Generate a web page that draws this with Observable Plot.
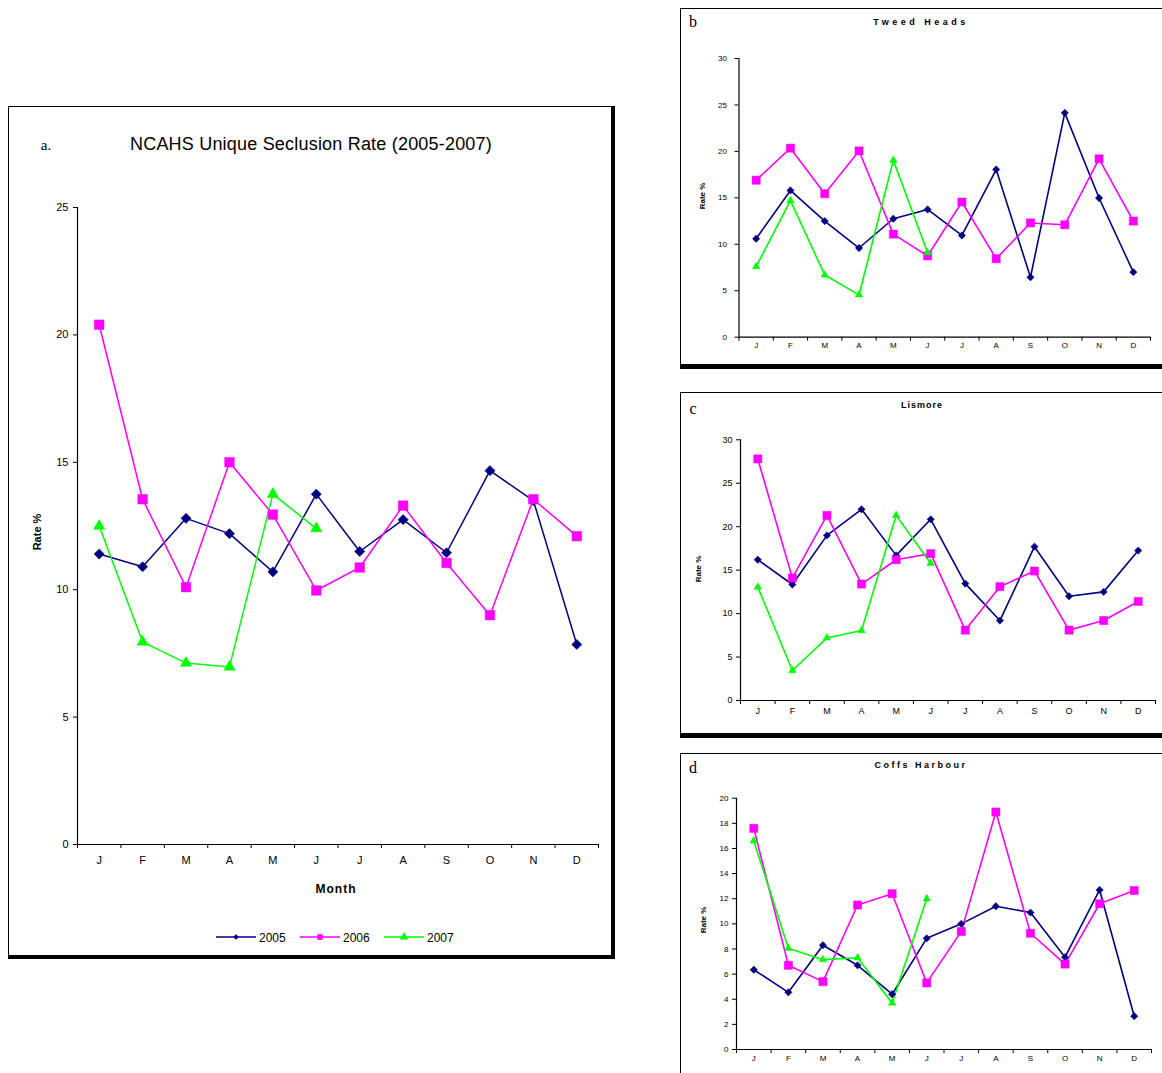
<!DOCTYPE html>
<html><head><meta charset="utf-8">
<script src="https://cdn.jsdelivr.net/npm/d3@7"></script>
<script src="https://cdn.jsdelivr.net/npm/@observablehq/plot@0.6"></script>
<style>
html,body{margin:0;padding:0;background:#fff;}
body{width:1162px;height:1073px;overflow:hidden;position:relative;font-family:"Liberation Sans",Arial,sans-serif;color:#000;}
.frame{position:absolute;box-sizing:border-box;border-left:1px solid #000;border-top:1px solid #000;border-right:4px solid #000;border-bottom:4px solid #000;}
.plotbox{position:absolute;}
.lbl{position:absolute;white-space:nowrap;transform:translate(-50%,-50%);line-height:1;}
</style></head><body>
<script>
// ---------- data ----------
const monthKeys = ["Jan","Feb","Mar","Apr","May","Jun","Jul","Aug","Sep","Oct","Nov","Dec"];
const monthLabels = ["J","F","M","A","M","J","J","A","S","O","N","D"];
const years = ["2005","2006","2007"];
const colors = ["#000080","#FF00FF","#00FF00"];
const symbols = ["diamond2","square","triangle"];

// a. NCAHS Unique Seclusion Rate (2005-2007)
const ncahs2005 = [11.4, 10.9, 12.8, 12.2, 10.7, 13.75, 11.5, 12.75, 11.45, 14.67, 13.5, 7.85];
const ncahs2006 = [20.4, 13.55, 10.1, 15.0, 12.95, 9.97, 10.87, 13.3, 11.05, 9.0, 13.55, 12.1];
const ncahs2007 = [12.5, 7.95, 7.12, 6.97, 13.75, 12.4];
const ncahsTicks = [0, 5, 10, 15, 20, 25];

// b. Tweed Heads
const tweed2005 = [10.6, 15.8, 12.5, 9.6, 12.75, 13.75, 10.95, 18.05, 6.45, 24.15, 14.98, 7.0];
const tweed2006 = [16.9, 20.35, 15.45, 20.05, 11.1, 8.75, 14.55, 8.45, 12.3, 12.1, 19.2, 12.5];
const tweed2007 = [7.6, 14.7, 6.7, 4.55, 19.05, 9.1];
const tweedTicks = [0, 5, 10, 15, 20, 25, 30];

// c. Lismore
const lismore2005 = [16.2, 13.35, 19.0, 22.0, 16.7, 20.85, 13.45, 9.2, 17.7, 12.0, 12.5, 17.25];
const lismore2006 = [27.8, 14.1, 21.3, 13.4, 16.2, 16.9, 8.1, 13.1, 14.9, 8.1, 9.2, 11.4];
const lismore2007 = [13.05, 3.45, 7.2, 8.05, 21.3, 15.8];
const lismoreTicks = [0, 5, 10, 15, 20, 25, 30];

// d. Coffs Harbour
const coffs2005 = [6.35, 4.55, 8.3, 6.7, 4.4, 8.85, 10.0, 11.4, 10.9, 7.35, 12.7, 2.65];
const coffs2006 = [17.6, 6.7, 5.4, 11.5, 12.4, 5.3, 9.4, 18.9, 9.25, 6.8, 11.6, 12.65];
const coffs2007 = [16.6, 8.05, 7.15, 7.3, 3.7, 12.0];
const coffsTicks = [0, 2, 4, 6, 8, 10, 12, 14, 16, 18, 20];

// ---------- helpers ----------
function addDiv(cls, css, text) {
  const d = document.createElement("div");
  d.className = cls;
  Object.assign(d.style, css);
  if (text != null) d.textContent = text;
  document.body.appendChild(d);
  return d;
}
function label(text, x, y, css = {}) {
  const d = addDiv("lbl", Object.assign({left: x + "px", top: y + "px"}, css), text);
  if (css.rotate) d.style.transform = "translate(-50%,-50%) rotate(-90deg)";
  return d;
}
function buildRows(series) {
  const rows = [];
  series.forEach((vals, s) => vals.forEach((v, i) => rows.push({year: years[s], s, i, month: monthKeys[i], v})));
  return rows;
}

function drawPanel(cfg) {
  const rows = buildRows(cfg.series);
  const pos = r => r.i + 0.5;
  const marks = [
    Plot.axisY({ticks: cfg.yTicks, tickSize: 4, tickPadding: cfg.yPad, label: null}),
    Plot.axisX({ticks: d3.range(13), tickSize: 4, tickFormat: () => "", label: null}),
    Plot.axisX({ticks: d3.range(12).map(i => i + 0.5), tickSize: 0, tickPadding: cfg.xPad,
      tickFormat: d => monthLabels[Math.floor(d)], label: null}),
    Plot.ruleX([0], {stroke: "#000", strokeWidth: 1.2}),
    Plot.ruleY([0], {stroke: "#000", strokeWidth: 1.2})
  ];
  years.forEach((yr, s) => {
    const d = rows.filter(r => r.s === s);
    marks.push(Plot.line(d, {x: pos, y: "v", stroke: colors[s], strokeWidth: cfg.sw}));
  });
  years.forEach((yr, s) => {
    const d = rows.filter(r => r.s === s);
    marks.push(Plot.dot(d, {x: pos, y: "v", fill: colors[s], stroke: colors[s], strokeWidth: 0.5,
      symbol: symbols[s], r: cfg.r[s]}));
  });
  const svg = Plot.plot({
    width: cfg.width, height: cfg.height,
    marginLeft: cfg.ml, marginRight: cfg.mr, marginTop: cfg.mt, marginBottom: cfg.mb,
    x: {domain: [0, 12]},
    y: {domain: [0, cfg.yMax]},
    style: {background: "transparent", color: "#000", fontSize: cfg.fs + "px",
      fontFamily: "'Liberation Sans Narrow','Liberation Sans',Arial,sans-serif", overflow: "visible"},
    marks
  });
  const box = addDiv("plotbox", {left: cfg.left + "px", top: cfg.top + "px"});
  box.appendChild(svg);
}

// ---------- frames ----------
addDiv("frame", {left: "8px", top: "106px", width: "607px", height: "853px"});
addDiv("frame", {left: "680px", top: "8px", width: "500px", height: "361px", borderBottomWidth: "5px"});
addDiv("frame", {left: "680px", top: "392px", width: "500px", height: "346px", borderBottomWidth: "5px"});
addDiv("frame", {left: "680px", top: "753px", width: "500px", height: "340px"});

// ---------- panel a ----------
drawPanel({left: 8, top: 106, width: 606, height: 852, ml: 69, mr: 16, mt: 101, mb: 114,
  series: [ncahs2005, ncahs2006, ncahs2007], yMax: 25, yTicks: ncahsTicks,
  yPad: 5, xPad: 12, fs: 11, sw: 1.5, r: [4.6, 5.4, 4.2]});
label("a.", 46, 145, {fontSize: "15px", fontFamily: "'Liberation Serif',serif"});
label("NCAHS Unique Seclusion Rate (2005-2007)", 311, 144, {fontSize: "18px", letterSpacing: "0.2px"});
label("Month", 336, 889, {fontSize: "12px", fontWeight: "bold", letterSpacing: "1px"});
label("Rate %", 37, 532, {fontSize: "11px", fontWeight: "bold", rotate: true});

// legend a
(function () {
  const leg = d3.select("body").append("svg")
    .style("position", "absolute").style("left", "210px").style("top", "928px")
    .attr("width", 260).attr("height", 20);
  const x0 = [6, 90, 174];
  years.forEach((yr, s) => {
    const g = leg.append("g").attr("transform", `translate(${x0[s]},9)`);
    g.append("line").attr("x1", 0).attr("x2", 40).attr("stroke", colors[s]).attr("stroke-width", 1.5);
    g.append("path").attr("transform", "translate(20,0)")
      .attr("d", d3.symbol(s === 0 ? d3.symbolDiamond2 : s === 1 ? d3.symbolSquare : d3.symbolTriangle, s === 0 ? 20 : 30)())
      .attr("fill", colors[s]);
    g.append("text").attr("x", 43).attr("y", 4.5).attr("font-size", 12)
      .attr("font-family", "'Liberation Sans Narrow','Liberation Sans',Arial,sans-serif").text(yr);
  });
})();

// ---------- panel b ----------
drawPanel({left: 680, top: 8, width: 482, height: 358, ml: 58.5, mr: 12, mt: 50, mb: 29.3,
  series: [tweed2005, tweed2006, tweed2007], yMax: 30, yTicks: tweedTicks,
  yPad: 8, xPad: 5, fs: 8, sw: 1.6, r: [3.3, 4.6, 2.8]});
label("b", 693, 22, {fontSize: "16px", fontFamily: "'Liberation Serif',serif"});
label("Tweed Heads", 921, 22, {fontSize: "9px", fontWeight: "bold", letterSpacing: "3.5px"});
label("Rate %", 703, 196, {fontSize: "8px", fontWeight: "bold", rotate: true});

// ---------- panel c ----------
drawPanel({left: 680, top: 392, width: 482, height: 345, ml: 60, mr: 7, mt: 47.3, mb: 37,
  series: [lismore2005, lismore2006, lismore2007], yMax: 30, yTicks: lismoreTicks,
  yPad: 4, xPad: 7, fs: 9, sw: 1.6, r: [3.3, 4.6, 2.8]});
label("c", 693, 409, {fontSize: "16px", fontFamily: "'Liberation Serif',serif"});
label("Lismore", 922, 405, {fontSize: "9px", fontWeight: "bold", letterSpacing: "1px"});
label("Rate %", 699, 569, {fontSize: "8px", fontWeight: "bold", rotate: true});

// ---------- panel d ----------
drawPanel({left: 680, top: 753, width: 482, height: 320, ml: 56, mr: 11, mt: 44.7, mb: 24,
  series: [coffs2005, coffs2006, coffs2007], yMax: 20, yTicks: coffsTicks,
  yPad: 4, xPad: 6, fs: 8, sw: 1.6, r: [3.3, 4.6, 2.8]});
label("d", 693, 768, {fontSize: "16px", fontFamily: "'Liberation Serif',serif"});
label("Coffs Harbour", 921, 765, {fontSize: "9px", fontWeight: "bold", letterSpacing: "2.5px"});
label("Rate %", 704, 920, {fontSize: "8px", fontWeight: "bold", rotate: true});
</script>
</body></html>
